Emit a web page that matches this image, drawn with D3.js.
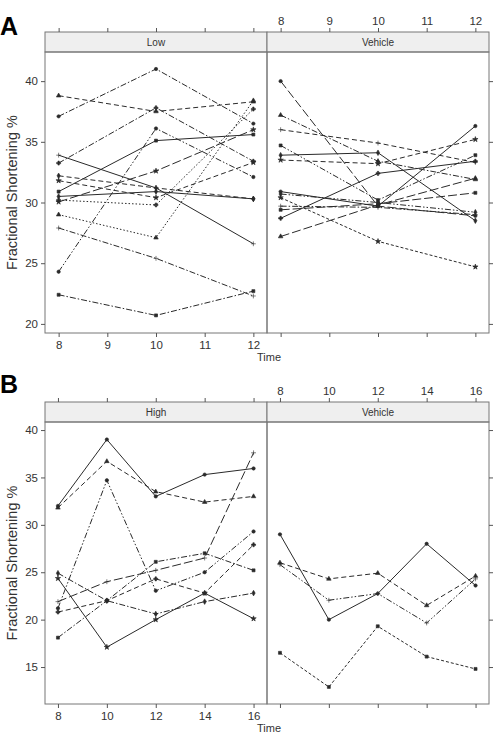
<!DOCTYPE html>
<html>
<head>
<meta charset="utf-8">
<script src="https://cdn.jsdelivr.net/npm/d3@7"></script>
<style>
  body { margin: 0; background: #fff; }
  svg text { font-family: "Liberation Sans", Arial, sans-serif; fill: #333; }
  .tick line { stroke: #555; }
  .tick text { font-size: 11.5px; fill: #333; }
</style>
</head>
<body>
<svg id="chart" width="500" height="744"></svg>
<script>
// ---- data ----
var timesA = [8, 10, 12];
var timesB = [8, 10, 12, 14, 16];
var ticksA_x = [8, 9, 10, 11, 12];
var ticksA_y = [20, 25, 30, 35, 40];
var ticksB_x = [8, 10, 12, 14, 16];
var ticksB_y = [15, 20, 25, 30, 35, 40];

// Panel A, "Low" dose group
var lowA = [
  [37.1, 41.0, 36.5],
  [38.8, 37.5, 38.3],
  [33.9, 31.2, 26.6],
  [30.9, 35.1, 35.6],
  [30.5, 30.9, 30.3],
  [30.05, 32.6, 36.0],
  [33.25, 37.8, 33.4],
  [24.3, 36.1, 32.1],
  [29.0, 27.1, 38.4],
  [27.9, 25.4, 22.3],
  [22.4, 20.7, 22.7],
  [32.2, 31.2, 30.3],
  [31.8, 30.4, 33.3],
  [30.2, 29.8, 37.7]
];
// Panel A, "Vehicle" group
var vehA = [
  [40.0, 29.7, 28.9],
  [37.2, 33.4, 31.9],
  [36.0, 34.9, 33.3],
  [34.7, 30.2, 33.9],
  [33.9, 34.1, 28.5],
  [33.5, 33.2, 35.2],
  [28.7, 32.4, 33.4],
  [30.9, 29.7, 36.3],
  [27.2, 29.8, 32.0],
  [29.7, 29.6, 29.0],
  [29.4, 29.9, 30.8],
  [30.7, 30.0, 29.2],
  [30.4, 26.8, 24.7]
];
// Panel B, "High" dose group
var highB = [
  [32.0, 39.0, 33.0, 35.3, 35.95],
  [31.8, 36.7, 33.5, 32.4, 33.0],
  [21.9, 24.0, 25.2, 26.5, 37.6],
  [18.1, 22.0, 26.1, 27.0, 25.2],
  [24.9, 22.0, 20.6, 21.9, 22.8],
  [24.35, 17.1, 20.0, 22.8, 20.1],
  [20.8, 22.0, 24.3, 22.8, 27.9],
  [21.2, 34.7, 23.05, 25.0, 29.3]
];
// Panel B, "Vehicle" group
var vehB = [
  [29.0, 20.0, 22.75, 28.0, 23.6],
  [26.0, 24.3, 24.9, 21.5, 24.6],
  [25.8, 22.05, 22.75, 19.65, 24.3],
  [16.5, 12.9, 19.3, 16.1, 14.8]
];

// line styles cycle (lattice-like): dash pattern + point symbol
var dashes = ["none", "5,3", "1.5,2", "6,2,1.5,2", "9,3", "6,2,1.5,2,1.5,2", "3,2"];
var symbols = [d3.symbolCircle, d3.symbolTriangle, d3.symbolPlus, d3.symbolSquare,
               d3.symbolDiamond, d3.symbolStar, d3.symbolCross];
var styleA_low = [3, 1, 0, 0, 0, 4, 3, 5, 2, 3, 3, 1, 1, 2];
var styleA_veh = [4, 3, 1, 5, 0, 1, 0, 0, 4, 3, 4, 5, 6];
var styleB_high = [0, 1, 4, 3, 3, 0, 1, 5];
var styleB_veh = [0, 1, 5, 6];

var svg = d3.select("#chart");

var left = 45, mid = 267, right = 489;

function drawFigure(o) {
  var g = svg.append("g");
  var y = d3.scaleLinear().domain(o.yDomain).range([o.bottom, o.top]);
  var xL = d3.scaleLinear().domain(o.xDomain).range([left, mid]);
  var xR = d3.scaleLinear().domain(o.xDomain).range([mid, right]);
  var stripTop = o.top - 20;

  function panel(x, name, data, styles) {
    var x0 = x.range()[0], x1 = x.range()[1];
    // strip
    g.append("rect").attr("x", x0).attr("y", stripTop).attr("width", x1 - x0).attr("height", 20)
      .attr("fill", "#efefef").attr("stroke", "#777").attr("stroke-width", 1);
    g.append("text").attr("x", (x0 + x1) / 2).attr("y", stripTop + 14)
      .attr("text-anchor", "middle").style("font-size", "10px").text(name);
    // frame
    g.append("rect").attr("x", x0).attr("y", o.top).attr("width", x1 - x0).attr("height", o.bottom - o.top)
      .attr("fill", "none").attr("stroke", "#777").attr("stroke-width", 1);

    var line = d3.line().x(function(d, i) { return x(o.times[i]); }).y(function(d) { return y(d); });
    data.forEach(function(s, k) {
      var st = styles[k];
      g.append("path").datum(s).attr("d", line).attr("fill", "none")
        .attr("stroke", "#2a2a2a").attr("stroke-width", 1)
        .attr("stroke-dasharray", dashes[st]);
      g.selectAll(null).data(s).enter().append("path")
        .attr("transform", function(d, i) { return "translate(" + x(o.times[i]) + "," + y(d) + ")"; })
        .attr("d", d3.symbol().type(symbols[k % symbols.length]).size(9))
        .attr("fill", "#2a2a2a").attr("stroke", "#2a2a2a").attr("stroke-width", 0.6);
    });
  }

  panel(xL, o.names[0], o.dataL, o.styleL);
  panel(xR, o.names[1], o.dataR, o.styleR);

  var fmt = d3.format("d");
  function axis(gen, tx, ty, labels) {
    var a = g.append("g").attr("transform", "translate(" + tx + "," + ty + ")")
      .call(gen.tickSizeOuter(0).tickFormat(fmt));
    a.select(".domain").remove();
    if (!labels) a.selectAll("text").remove();
    return a;
  }
  axis(d3.axisLeft(y).tickValues(o.yTicks).tickSize(4).tickPadding(3), left, 0, true);
  axis(d3.axisRight(y).tickValues(o.yTicks).tickSize(4), right, 0, false);
  axis(d3.axisBottom(xL).tickValues(o.xTicks).tickSize(4).tickPadding(4), 0, o.bottom, true);
  axis(d3.axisBottom(xR).tickValues(o.xTicks).tickSize(4), 0, o.bottom, false);
  axis(d3.axisTop(xL).tickValues(o.xTicks).tickSize(4), 0, stripTop, false);
  axis(d3.axisTop(xR).tickValues(o.xTicks).tickSize(4).tickPadding(3), 0, stripTop, true);

  g.append("text").attr("x", mid + 2).attr("y", o.bottom + 28).attr("text-anchor", "middle")
    .style("font-size", "11px").text("Time");
  g.append("text").attr("transform", "translate(17," + ((o.top + o.bottom) / 2) + ") rotate(-90)")
    .attr("text-anchor", "middle").style("font-size", "14.5px").text("Fractional Shortening %");
  g.append("text").attr("x", 0).attr("y", o.letterY).style("font-size", "25px")
    .style("font-weight", "bold").style("fill", "#000").text(o.letter);
}

drawFigure({
  letter: "A", letterY: 35,
  top: 52, bottom: 333,
  yDomain: [19.25, 42.4], xDomain: [7.72, 12.28],
  times: timesA, xTicks: ticksA_x, yTicks: ticksA_y,
  names: ["Low", "Vehicle"],
  dataL: lowA, dataR: vehA, styleL: styleA_low, styleR: styleA_veh
});

drawFigure({
  letter: "B", letterY: 393,
  top: 422, bottom: 704,
  yDomain: [11.1, 40.85], xDomain: [7.47, 16.55],
  times: timesB, xTicks: ticksB_x, yTicks: ticksB_y,
  names: ["High", "Vehicle"],
  dataL: highB, dataR: vehB, styleL: styleB_high, styleR: styleB_veh
});
</script>
</body>
</html>
